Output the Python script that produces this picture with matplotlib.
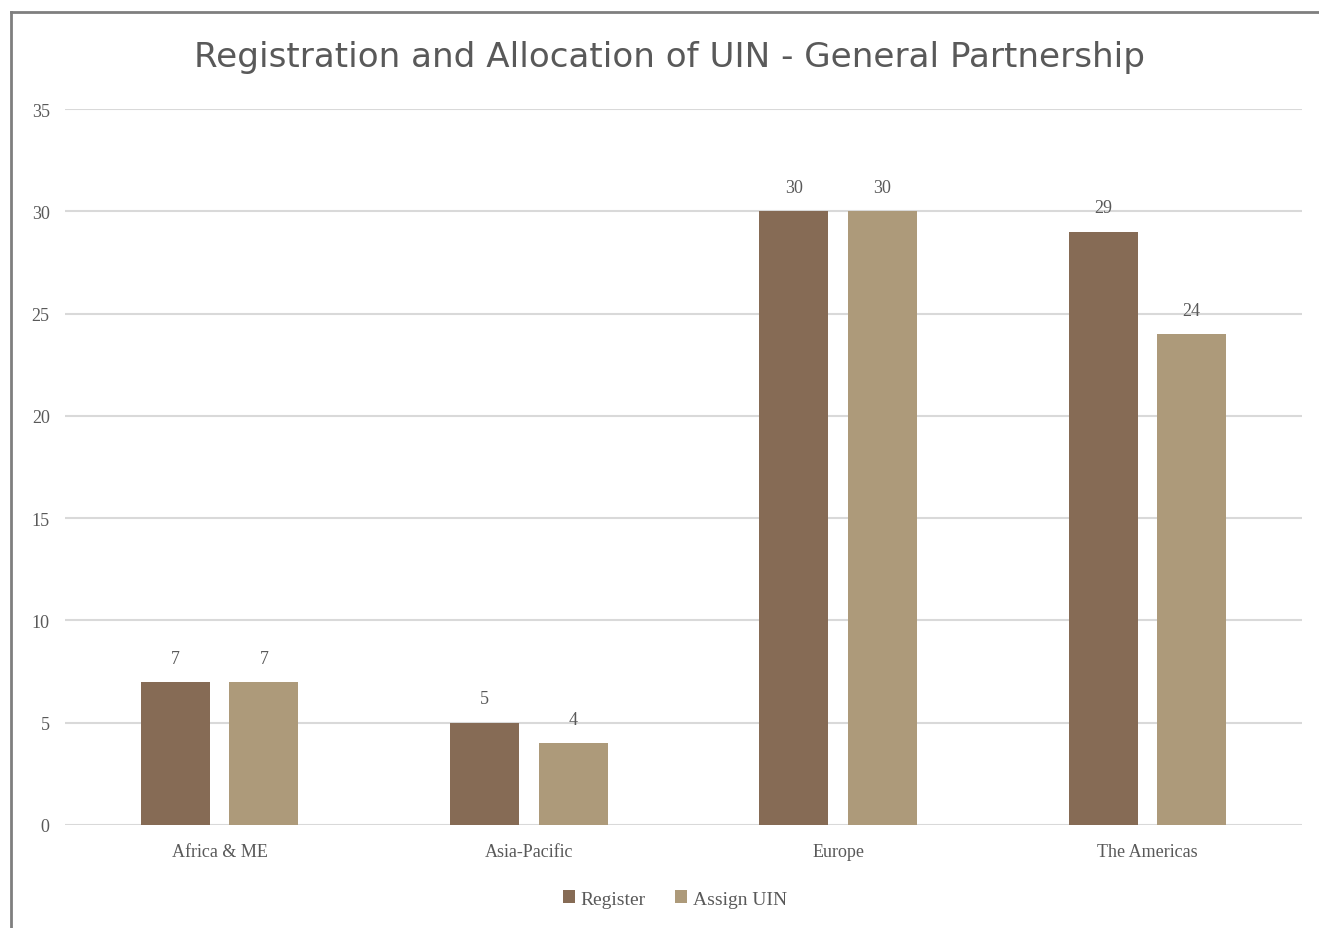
import matplotlib
matplotlib.use("Agg")
import matplotlib.pyplot as plt
import numpy as np
from matplotlib.lines import Line2D

categories = ["Africa & ME", "Asia-Pacific", "Europe", "The Americas"]
register = [7, 5, 30, 29]
assign_uin = [7, 4, 30, 24]
series_names = ["Register", "Assign UIN"]
yticks = [0, 5, 10, 15, 20, 25, 30, 35]
title = "Registration and Allocation of UIN - General Partnership"

c_reg = "#866B55"
c_asg = "#AD9A7A"
txt = "#595959"
serif = "Liberation Serif"

W, H = 1319, 929
fig = plt.figure(figsize=(W / 100, H / 100), dpi=100)
ax = fig.add_axes([65 / W, 1 - 826 / H, (1302 - 65) / W, (826 - 110) / H])

x = np.arange(len(categories))
bw = 0.223
off = 0.143
b1 = ax.bar(x - off, register, bw, color=c_reg, label=series_names[0], zorder=3)
b2 = ax.bar(x + off, assign_uin, bw, color=c_asg, label=series_names[1], zorder=3)
for bars in (b1, b2):
    ax.bar_label(bars, padding=11, fontsize=13, color=txt, family=serif)

ax.set_xlim(-0.5, len(categories) - 0.5)
ax.set_ylim(0, 35)
ax.set_yticks(yticks)
ax.set_xticks(x)
ax.set_xticklabels(categories)
ax.grid(axis="y", color="#d9d9d9", linewidth=1.5, zorder=0)
for s in ["top", "right", "left", "bottom"]:
    ax.spines[s].set_visible(False)
ax.tick_params(axis="both", length=0, labelsize=13, labelcolor=txt)
ax.tick_params(axis="y", pad=11)
ax.tick_params(axis="x", pad=13)
for lab in ax.get_xticklabels() + ax.get_yticklabels():
    lab.set_family(serif)

fig.text(670 / W, 1 - 57 / H, title, ha="center", va="center",
         fontsize=24.6, color=txt, family="DejaVu Sans")

leg = ax.legend(loc="center", bbox_to_anchor=(675 / W, 1 - 900 / H),
                bbox_transform=fig.transFigure, ncol=2, frameon=False,
                prop={"family": serif, "size": 14}, labelcolor=txt,
                handlelength=0.6, handleheight=0.6, handletextpad=0.3,
                columnspacing=1.5)

# chart border (right and bottom edges fall outside the image)
bc = "#7f7f7f"
fig.add_artist(Line2D([10.5 / W, 10.5 / W], [0, 1 - 13 / H], transform=fig.transFigure, color=bc, lw=2))
fig.add_artist(Line2D([10.5 / W, 1], [1 - 13 / H, 1 - 13 / H], transform=fig.transFigure, color=bc, lw=2))

fig.savefig("out.png", dpi=100)
